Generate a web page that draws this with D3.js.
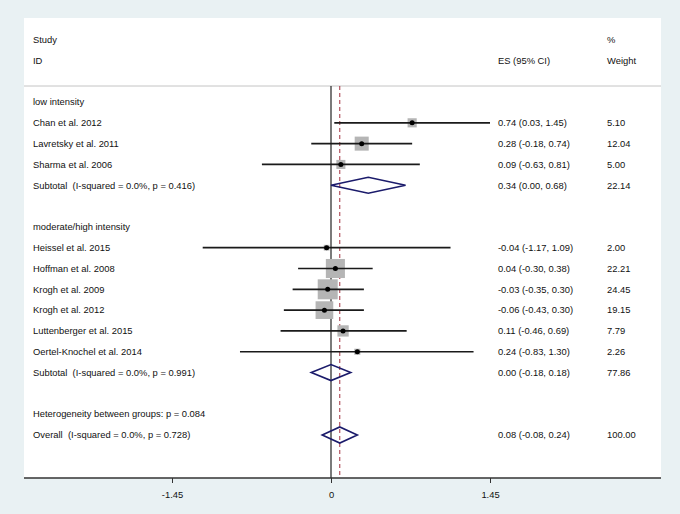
<!DOCTYPE html>
<html><head><meta charset="utf-8">
<script src="https://cdn.jsdelivr.net/npm/d3@7"></script>
<style>body{margin:0;background:#e9f1f3}svg{display:block}text{font-family:"Liberation Sans",Arial,sans-serif;font-size:9.4px;fill:#111;white-space:pre}</style>
</head><body>
<script>
// ---- data ----
const rowLabels = ["low intensity","Chan et al. 2012","Lavretsky et al. 2011","Sharma et al. 2006",
  "Subtotal  (I-squared = 0.0%, p = 0.416)","",
  "moderate/high intensity","Heissel et al. 2015","Hoffman et al. 2008","Krogh et al. 2009","Krogh et al. 2012",
  "Luttenberger et al. 2015","Oertel-Knochel et al. 2014",
  "Subtotal  (I-squared = 0.0%, p = 0.991)","",
  "Heterogeneity between groups: p = 0.084",
  "Overall  (I-squared = 0.0%, p = 0.728)"];
const rowType = ["head","study","study","study","sub","blank","head","study","study","study","study","study","study","sub","blank","head","sub"];
const es     = [null,0.74,0.28,0.09,0.34,null,null,-0.04,0.04,-0.03,-0.06,0.11,0.24,0.00,null,null,0.08];
const lo     = [null,0.03,-0.18,-0.63,0.00,null,null,-1.17,-0.30,-0.35,-0.43,-0.46,-0.83,-0.18,null,null,-0.08];
const hi     = [null,1.45,0.74,0.81,0.68,null,null,1.09,0.38,0.30,0.30,0.69,1.30,0.18,null,null,0.24];
const weight = [null,5.10,12.04,5.00,22.14,null,null,2.00,22.21,24.45,19.15,7.79,2.26,77.86,null,null,100.00];
const tickValues = [-1.45, 0, 1.45];
const overallES = 0.08;

const W = 680, H = 514;
const svg = d3.select("body").append("svg").attr("width", W).attr("height", H);

// white panel
svg.append("rect").attr("x",24).attr("y",18).attr("width",637).attr("height",460).attr("fill","#fff");

const x = d3.scaleLinear().domain([-1.45,1.45]).range([172,490]);
const y = d3.scaleLinear().domain([0,16]).range([102,435]);
const sz = d3.scaleSqrt().domain([0,24.45]).range([0,20]);
const f2 = v => d3.format(".2f")(v).replace("\u2212","-");

// headers
const hdr = [["Study",33,40],["ID",33,61],["ES (95% CI)",498,61],["%",607,40],["Weight",607,61]];
svg.selectAll("text.hdr").data(hdr).join("text").attr("class","hdr")
  .attr("x",d=>d[1]).attr("y",d=>d[2]).attr("dy","0.35em").text(d=>d[0]);

svg.append("line").attr("x1",24).attr("x2",661).attr("y1",86).attr("y2",86)
  .attr("stroke","#c4c4c4").attr("stroke-width",1);

// reference lines
svg.append("line").attr("x1",x(0)).attr("x2",x(0)).attr("y1",86).attr("y2",478)
  .attr("stroke","#222").attr("stroke-width",1.2);
svg.append("line").attr("x1",x(overallES)).attr("x2",x(overallES)).attr("y1",86).attr("y2",478)
  .attr("stroke","#a3303f").attr("stroke-width",1).attr("stroke-dasharray","4,3");

const rows = rowLabels.map((l,i)=>({i,l,t:rowType[i],es:es[i],lo:lo[i],hi:hi[i],w:weight[i]}));

// labels
svg.selectAll("text.lab").data(rows.filter(r=>r.l)).join("text").attr("class","lab")
  .attr("x",33).attr("y",r=>y(r.i)).attr("dy","0.35em").text(r=>r.l);

const withES = rows.filter(r=>r.es!==null);
svg.selectAll("text.es").data(withES).join("text").attr("class","es")
  .attr("x",498).attr("y",r=>y(r.i)).attr("dy","0.35em")
  .text(r=>`${f2(r.es)} (${f2(r.lo)}, ${f2(r.hi)})`);
svg.selectAll("text.wt").data(withES).join("text").attr("class","wt")
  .attr("x",607).attr("y",r=>y(r.i)).attr("dy","0.35em").text(r=>f2(r.w));

// studies
const st = rows.filter(r=>r.t==="study");
svg.selectAll("rect.box").data(st).join("rect").attr("class","box")
  .attr("x",r=>x(r.es)-sz(r.w)/2).attr("y",r=>y(r.i)-sz(r.w)/2)
  .attr("width",r=>sz(r.w)).attr("height",r=>sz(r.w)).attr("fill","#b5b5b5");
svg.selectAll("line.ci").data(st).join("line").attr("class","ci")
  .attr("x1",r=>x(r.lo)).attr("x2",r=>x(r.hi)).attr("y1",r=>y(r.i)).attr("y2",r=>y(r.i))
  .attr("stroke","#1a1a1a").attr("stroke-width",1.7);
svg.selectAll("circle.pt").data(st).join("circle").attr("class","pt")
  .attr("cx",r=>x(r.es)).attr("cy",r=>y(r.i)).attr("r",2.5).attr("fill","#000");

// diamonds
const sub = rows.filter(r=>r.t==="sub");
svg.selectAll("path.dia").data(sub).join("path").attr("class","dia")
  .attr("d",r=>{const c=y(r.i),h=8;return `M${x(r.lo)},${c}L${x(r.es)},${c-h}L${x(r.hi)},${c}L${x(r.es)},${c+h}Z`;})
  .attr("fill","none").attr("stroke","#1b1b6b").attr("stroke-width",1.6);

// axis
svg.append("line").attr("x1",24).attr("x2",661).attr("y1",478).attr("y2",478)
  .attr("stroke","#333").attr("stroke-width",1.5);
const ax = svg.append("g").attr("transform","translate(0,478)")
  .call(d3.axisBottom(x).tickValues(tickValues).tickFormat(d=>d===0?"0":f2(d)).tickSize(5).tickPadding(8));
ax.select(".domain").remove();
ax.selectAll("line").attr("stroke","#333");
ax.selectAll("text").style("font-family","Liberation Sans, Arial, sans-serif").style("font-size","9.4px").attr("fill","#111");
</script>
</body></html>
